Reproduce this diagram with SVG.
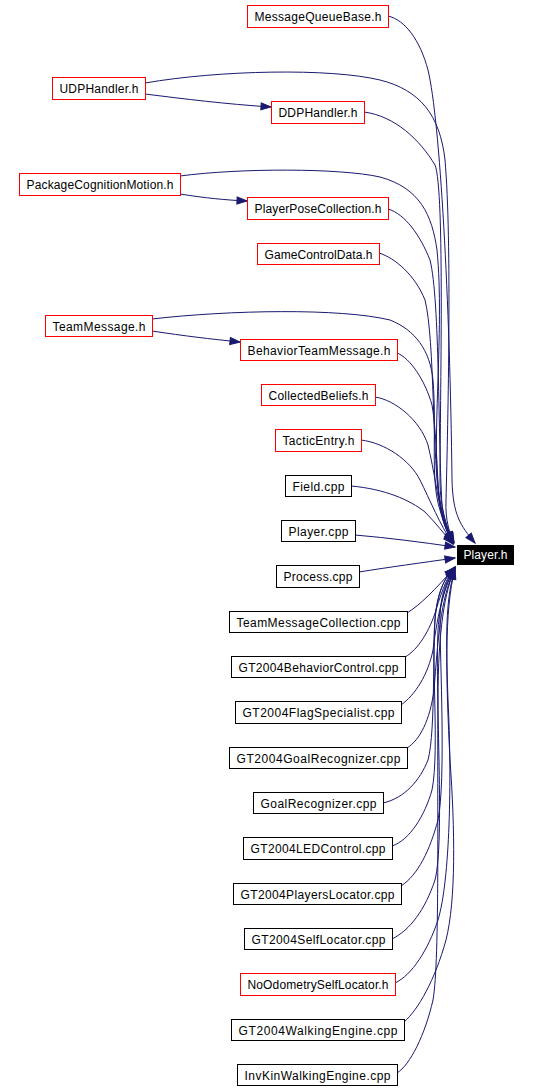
<svg xmlns="http://www.w3.org/2000/svg" width="541" height="1092" viewBox="0 0 541 1092">
<style>
.n rect{fill:#fff;stroke:#000;stroke-width:1}
.n.r rect{stroke:#ff0000}
.n text{font-family:"Liberation Sans",Arial,Helvetica,sans-serif;font-size:12px;fill:#000;text-anchor:middle}
#player_h rect{fill:#000;stroke:#000}
#player_h text{fill:#fff}
#edges path{fill:none;stroke:#191970;stroke-width:1;marker-end:url(#arr)}
</style>
<defs>
<marker id="arr" markerWidth="11" markerHeight="9" refX="10" refY="4" orient="auto" markerUnits="userSpaceOnUse" overflow="visible">
<path d="M0,0.5 L10,4 L0,7.5 z" fill="#191970" stroke="#191970" stroke-width="1"/>
</marker>
</defs>
<rect width="541" height="1092" fill="#fff"/>
<g id="edges">
<path d="M145,94 C185,99 225,104 271,107"/>
<path d="M180,194 C205,198 225,200 247,201"/>
<path d="M152,331 C185,336 210,339 240,342"/>
<path d="M388,16 C405,20 420,40 428,70 C440,120 450,300 452,480 C453,515 460,525 475,543"/>
<path d="M145,83 C220,70 330,68 380,80 C420,90 440,115 445,160 C452,240 448,420 446,500 C445,520 450,535 454,542"/>
<path d="M364,112 C395,116 420,140 435,165 C445,190 440,400 440,480 C440,510 448,530 454,543"/>
<path d="M180,176 C240,168 340,168 380,177 C420,188 432,215 437,250 C445,330 430,450 440,500 C443,520 448,532 453,542"/>
<path d="M388,209 C405,214 420,235 430,260 C440,300 438,440 442,505 C444,522 449,533 453,542"/>
<path d="M379,253 C395,258 415,275 425,300 C435,340 432,460 440,505 C444,522 449,533 453,542"/>
<path d="M152,319 C230,310 340,308 390,320 C415,330 430,350 433,380 C437,430 430,480 440,510 C444,525 449,535 453,543"/>
<path d="M397,353 C410,358 425,380 432,405 C438,440 436,490 442,515 C445,528 449,537 453,543"/>
<path d="M375,397 C395,400 420,420 428,445 C434,470 438,500 443,520 C446,530 450,538 453,543"/>
<path d="M361,440 C385,443 410,460 420,480 C430,500 440,525 453,544"/>
<path d="M351,486 C385,489 410,500 425,512 C435,522 445,535 453,544"/>
<path d="M355,535 C390,538 420,542 455,547"/>
<path d="M359,572 C390,567 420,563 455,558"/>
<path d="M407,613 C420,605 435,590 455,567"/>
<path d="M405,657 C418,650 430,630 436,610 C442,590 448,575 455,567"/>
<path d="M401,705 C415,695 428,675 433,650 C438,610 445,585 455,568"/>
<path d="M407,748 C420,740 430,720 434,690 C438,640 440,600 455,568"/>
<path d="M383,803 C405,798 420,780 428,760 C436,730 432,640 436,610 C440,585 447,575 455,568"/>
<path d="M392,846 C410,840 425,815 432,790 C440,750 430,650 436,610 C440,585 447,575 455,568"/>
<path d="M401,886 C418,875 430,850 438,820 C446,780 440,660 440,620 C440,595 447,578 455,569"/>
<path d="M392,939 C410,930 425,910 435,880 C445,840 435,700 438,630 C440,600 447,580 455,569"/>
<path d="M395,983 C412,975 428,950 438,920 C450,880 452,780 448,700 C446,640 445,600 455,569"/>
<path d="M404,1022 C418,1010 435,980 446,940 C456,900 455,830 450,760 C446,680 444,610 455,569"/>
<path d="M397,1073 C410,1065 425,1035 433,1000 C440,960 437,800 438,700 C438,630 445,590 455,569"/>
</g>
<g id="messagequeuebase_h" class="n r"><rect x="247.5" y="5.5" width="141" height="22"/><text x="318" y="21" textLength="127" lengthAdjust="spacing">MessageQueueBase.h</text></g>
<g id="udphandler_h" class="n r"><rect x="52.5" y="77.5" width="93" height="22"/><text x="99" y="93" textLength="79" lengthAdjust="spacing">UDPHandler.h</text></g>
<g id="ddphandler_h" class="n r"><rect x="271.5" y="101.5" width="93" height="22"/><text x="318" y="117" textLength="79" lengthAdjust="spacing">DDPHandler.h</text></g>
<g id="packagecognitionmotion_h" class="n r"><rect x="19.5" y="173.5" width="161" height="22"/><text x="100" y="189" textLength="147" lengthAdjust="spacing">PackageCognitionMotion.h</text></g>
<g id="playerposecollection_h" class="n r"><rect x="247.5" y="197.5" width="141" height="22"/><text x="318" y="213" textLength="127" lengthAdjust="spacing">PlayerPoseCollection.h</text></g>
<g id="gamecontroldata_h" class="n r"><rect x="257.5" y="243.5" width="122" height="21"/><text x="318.5" y="258.5" textLength="108" lengthAdjust="spacing">GameControlData.h</text></g>
<g id="teammessage_h" class="n r"><rect x="45.5" y="315.5" width="107" height="21"/><text x="99" y="330.5" textLength="93" lengthAdjust="spacing">TeamMessage.h</text></g>
<g id="behaviorteammessage_h" class="n r"><rect x="240.5" y="339.5" width="157" height="21"/><text x="319" y="354.5" textLength="143" lengthAdjust="spacing">BehaviorTeamMessage.h</text></g>
<g id="collectedbeliefs_h" class="n r"><rect x="261.5" y="384.5" width="114" height="21"/><text x="318.5" y="399.5" textLength="100" lengthAdjust="spacing">CollectedBeliefs.h</text></g>
<g id="tacticentry_h" class="n r"><rect x="275.5" y="429.5" width="86" height="22"/><text x="318.5" y="445" textLength="72" lengthAdjust="spacing">TacticEntry.h</text></g>
<g id="field_cpp" class="n"><rect x="285.5" y="475.5" width="66" height="21"/><text x="318.5" y="490.5" textLength="52" lengthAdjust="spacing">Field.cpp</text></g>
<g id="player_cpp" class="n"><rect x="281.5" y="520.5" width="74" height="21"/><text x="318.5" y="535.5" textLength="60" lengthAdjust="spacing">Player.cpp</text></g>
<g id="process_cpp" class="n"><rect x="276.5" y="565.5" width="83" height="22"/><text x="318" y="581" textLength="69" lengthAdjust="spacing">Process.cpp</text></g>
<g id="teammessagecollection_cpp" class="n"><rect x="229.5" y="611.5" width="178" height="21"/><text x="318.5" y="626.5" textLength="164" lengthAdjust="spacing">TeamMessageCollection.cpp</text></g>
<g id="gt2004behaviorcontrol_cpp" class="n"><rect x="231.5" y="656.5" width="174" height="21"/><text x="318.5" y="671.5" textLength="160" lengthAdjust="spacing">GT2004BehaviorControl.cpp</text></g>
<g id="gt2004flagspecialist_cpp" class="n"><rect x="235.5" y="701.5" width="166" height="22"/><text x="318.5" y="717" textLength="152" lengthAdjust="spacing">GT2004FlagSpecialist.cpp</text></g>
<g id="gt2004goalrecognizer_cpp" class="n"><rect x="229.5" y="747.5" width="178" height="21"/><text x="318.5" y="762.5" textLength="164" lengthAdjust="spacing">GT2004GoalRecognizer.cpp</text></g>
<g id="goalrecognizer_cpp" class="n"><rect x="253.5" y="792.5" width="130" height="21"/><text x="318.5" y="807.5" textLength="116" lengthAdjust="spacing">GoalRecognizer.cpp</text></g>
<g id="gt2004ledcontrol_cpp" class="n"><rect x="243.5" y="837.5" width="149" height="22"/><text x="318" y="853" textLength="135" lengthAdjust="spacing">GT2004LEDControl.cpp</text></g>
<g id="gt2004playerslocator_cpp" class="n"><rect x="233.5" y="883.5" width="168" height="21"/><text x="317.5" y="898.5" textLength="154" lengthAdjust="spacing">GT2004PlayersLocator.cpp</text></g>
<g id="gt2004selflocator_cpp" class="n"><rect x="244.5" y="928.5" width="148" height="21"/><text x="318.5" y="943.5" textLength="134" lengthAdjust="spacing">GT2004SelfLocator.cpp</text></g>
<g id="noodometryselflocator_h" class="n r"><rect x="240.5" y="973.5" width="155" height="22"/><text x="318" y="989" textLength="141" lengthAdjust="spacing">NoOdometrySelfLocator.h</text></g>
<g id="gt2004walkingengine_cpp" class="n"><rect x="231.5" y="1019.5" width="173" height="21"/><text x="318" y="1034.5" textLength="159" lengthAdjust="spacing">GT2004WalkingEngine.cpp</text></g>
<g id="invkinwalkingengine_cpp" class="n"><rect x="237.5" y="1064.5" width="160" height="21"/><text x="317.5" y="1079.5" textLength="146" lengthAdjust="spacing">InvKinWalkingEngine.cpp</text></g>
<g id="player_h" class="n"><rect x="457.5" y="545.5" width="56" height="19"/><text x="485.5" y="559" textLength="44" lengthAdjust="spacing">Player.h</text></g>
</svg>
